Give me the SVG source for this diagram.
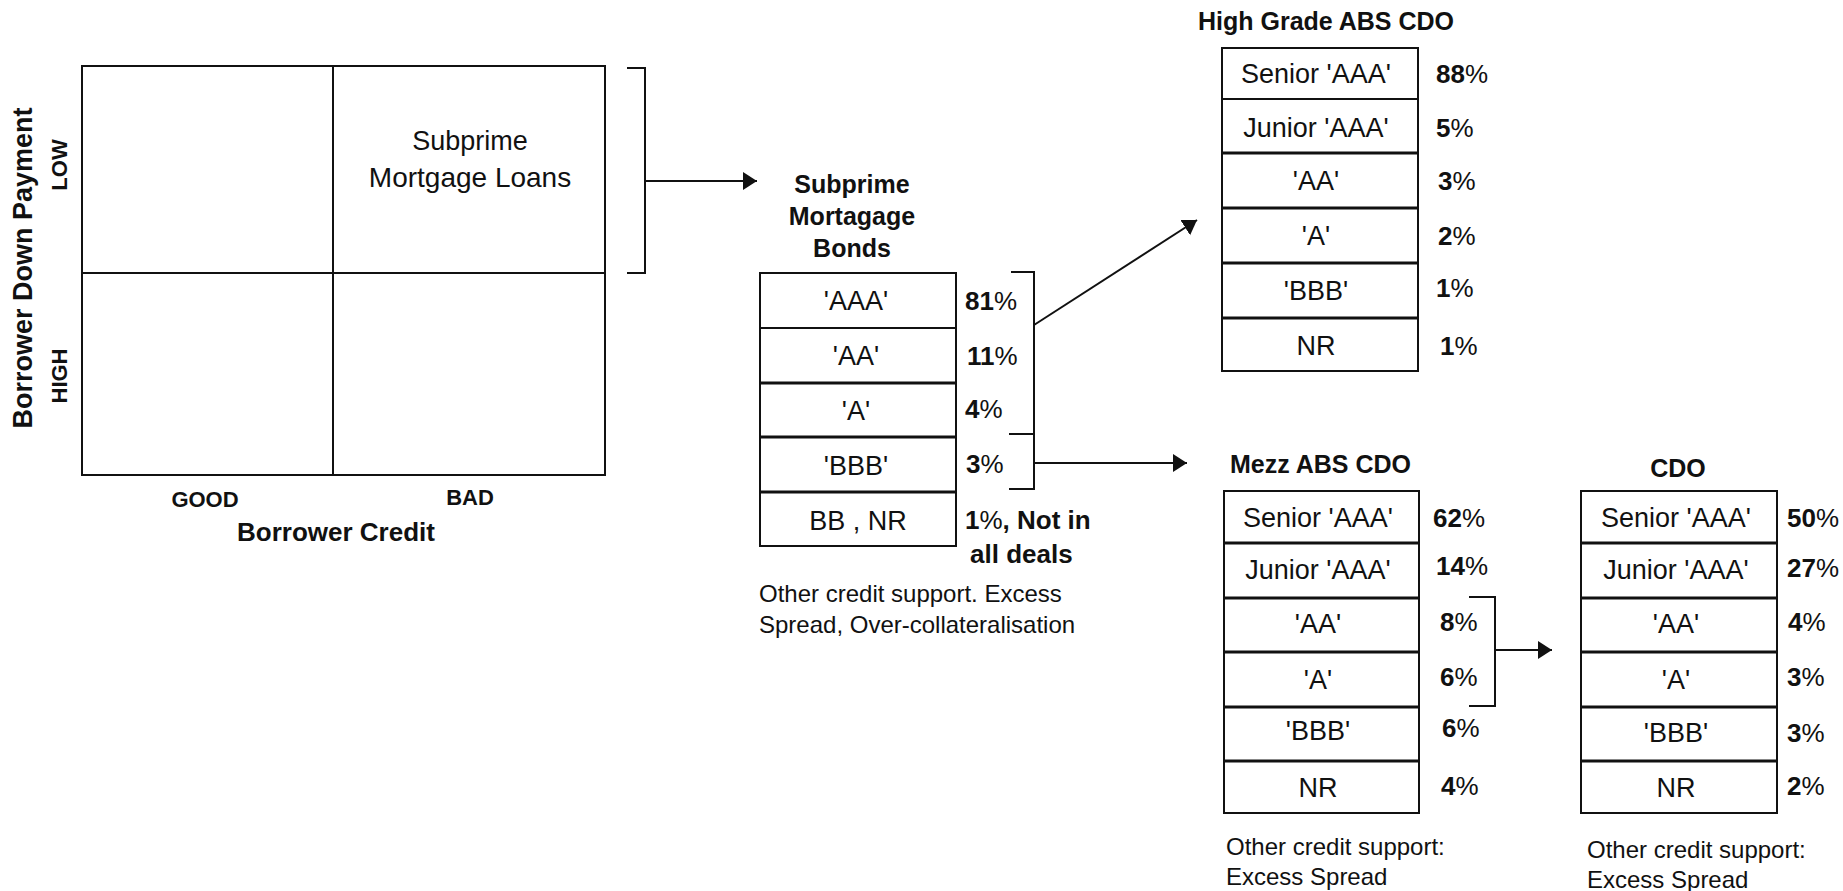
<svg xmlns="http://www.w3.org/2000/svg" width="1843" height="891" viewBox="0 0 1843 891">
<defs>
<marker id="ah" markerUnits="userSpaceOnUse" markerWidth="16" markerHeight="20" refX="14" refY="10" orient="auto">
<path d="M0,1 L14,10 L0,19 Z" fill="#111"/>
</marker>
<style>
text{font-family:"Liberation Sans",Arial,sans-serif;fill:#111}
.b{font-weight:bold}
.t{font-size:25px;font-weight:bold}
.lbl{font-size:27px;text-anchor:middle}
.pct{font-size:26px;font-weight:bold}
.pct tspan{font-weight:normal}
.body{font-size:24px}
.ax{font-size:22px;font-weight:bold;text-anchor:middle}
.ln{fill:none;stroke:#111;stroke-width:2}
.tb{fill:#fff;stroke:#111;stroke-width:2}
.dv{stroke:#111;stroke-width:3}
</style>
</defs>
<rect width="1843" height="891" fill="#fff"/>

<g id="quadrant">
<rect x="82" y="66" width="523" height="409" class="ln"/>
<line x1="333" y1="66" x2="333" y2="475" class="ln"/>
<line x1="82" y1="273" x2="605" y2="273" class="ln"/>
<text x="470" y="150" font-size="27" text-anchor="middle">Subprime</text>
<text x="470" y="187" font-size="28" text-anchor="middle">Mortgage Loans</text>
<text transform="translate(32,268) rotate(-90)" font-size="27" class="b" text-anchor="middle">Borrower Down Payment</text>
<text transform="translate(67,165) rotate(-90)" class="ax">LOW</text>
<text transform="translate(67,376) rotate(-90)" class="ax">HIGH</text>
<text x="205" y="507" class="ax">GOOD</text>
<text x="470" y="505" class="ax">BAD</text>
<text x="336" y="541" font-size="26" class="b" text-anchor="middle">Borrower Credit</text>
</g>

<g id="subprime-bonds">
<text x="852" y="193" class="t" font-size="26" text-anchor="middle">Subprime</text>
<text x="852" y="225" class="t" font-size="26" text-anchor="middle">Mortagage</text>
<text x="852" y="257" class="t" font-size="26" text-anchor="middle">Bonds</text>
<rect x="760" y="273" width="196" height="273" class="tb"/>
<line x1="760" y1="328" x2="956" y2="328" class="ln"/>
<line x1="760" y1="383" x2="956" y2="383" class="dv"/>
<line x1="760" y1="437" x2="956" y2="437" class="dv"/>
<line x1="760" y1="492" x2="956" y2="492" class="dv"/>
<text x="856" y="310" class="lbl">'AAA'</text>
<text x="856" y="365" class="lbl">'AA'</text>
<text x="856" y="420" class="lbl">'A'</text>
<text x="856" y="475" class="lbl">'BBB'</text>
<text x="858" y="530" class="lbl">BB , NR</text>
<text x="965" y="310" class="pct">81<tspan>%</tspan></text>
<text x="967" y="365" class="pct">11<tspan>%</tspan></text>
<text x="965" y="418" class="pct">4<tspan>%</tspan></text>
<text x="966" y="473" class="pct">3<tspan>%</tspan></text>
<text x="965" y="529" class="pct" font-size="25">1<tspan>%</tspan>, Not in</text>
<text x="970" y="563" class="pct" font-size="25">all deals</text>
<text x="759" y="602" class="body">Other credit support. Excess</text>
<text x="759" y="633" class="body">Spread, Over-collateralisation</text>
</g>

<g id="high-grade-cdo">
<text x="1198" y="30" class="t">High Grade ABS CDO</text>
<rect x="1222" y="48" width="196" height="323" class="tb"/>
<line x1="1222" y1="99" x2="1418" y2="99" class="ln"/>
<line x1="1222" y1="153" x2="1418" y2="153" class="dv"/>
<line x1="1222" y1="208" x2="1418" y2="208" class="dv"/>
<line x1="1222" y1="263" x2="1418" y2="263" class="dv"/>
<line x1="1222" y1="318" x2="1418" y2="318" class="dv"/>
<text x="1316" y="83" class="lbl">Senior 'AAA'</text>
<text x="1316" y="137" class="lbl">Junior 'AAA'</text>
<text x="1316" y="190" class="lbl">'AA'</text>
<text x="1316" y="245" class="lbl">'A'</text>
<text x="1316" y="300" class="lbl">'BBB'</text>
<text x="1316" y="355" class="lbl">NR</text>
<text x="1436" y="83" class="pct">88<tspan>%</tspan></text>
<text x="1436" y="137" class="pct">5<tspan>%</tspan></text>
<text x="1438" y="190" class="pct">3<tspan>%</tspan></text>
<text x="1438" y="245" class="pct">2<tspan>%</tspan></text>
<text x="1436" y="297" class="pct">1<tspan>%</tspan></text>
<text x="1440" y="355" class="pct">1<tspan>%</tspan></text>
</g>

<g id="mezz-cdo">
<text x="1230" y="473" class="t">Mezz ABS CDO</text>
<rect x="1224" y="491" width="195" height="322" class="tb"/>
<line x1="1224" y1="543" x2="1419" y2="543" class="dv"/>
<line x1="1224" y1="598" x2="1419" y2="598" class="dv"/>
<line x1="1224" y1="652" x2="1419" y2="652" class="dv"/>
<line x1="1224" y1="707" x2="1419" y2="707" class="dv"/>
<line x1="1224" y1="761" x2="1419" y2="761" class="dv"/>
<text x="1318" y="527" class="lbl">Senior 'AAA'</text>
<text x="1318" y="579" class="lbl">Junior 'AAA'</text>
<text x="1318" y="633" class="lbl">'AA'</text>
<text x="1318" y="689" class="lbl">'A'</text>
<text x="1318" y="740" class="lbl">'BBB'</text>
<text x="1318" y="797" class="lbl">NR</text>
<text x="1433" y="527" class="pct">62<tspan>%</tspan></text>
<text x="1436" y="575" class="pct">14<tspan>%</tspan></text>
<text x="1440" y="631" class="pct">8<tspan>%</tspan></text>
<text x="1440" y="686" class="pct">6<tspan>%</tspan></text>
<text x="1442" y="737" class="pct">6<tspan>%</tspan></text>
<text x="1441" y="795" class="pct">4<tspan>%</tspan></text>
<text x="1226" y="855" class="body">Other credit support:</text>
<text x="1226" y="885" class="body">Excess Spread</text>
</g>

<g id="cdo">
<text x="1678" y="477" class="t" text-anchor="middle">CDO</text>
<rect x="1581" y="491" width="196" height="322" class="tb"/>
<line x1="1581" y1="543" x2="1777" y2="543" class="dv"/>
<line x1="1581" y1="598" x2="1777" y2="598" class="dv"/>
<line x1="1581" y1="652" x2="1777" y2="652" class="dv"/>
<line x1="1581" y1="707" x2="1777" y2="707" class="dv"/>
<line x1="1581" y1="761" x2="1777" y2="761" class="dv"/>
<text x="1676" y="527" class="lbl">Senior 'AAA'</text>
<text x="1676" y="579" class="lbl">Junior 'AAA'</text>
<text x="1676" y="633" class="lbl">'AA'</text>
<text x="1676" y="689" class="lbl">'A'</text>
<text x="1676" y="742" class="lbl">'BBB'</text>
<text x="1676" y="797" class="lbl">NR</text>
<text x="1787" y="527" class="pct">50<tspan>%</tspan></text>
<text x="1787" y="577" class="pct">27<tspan>%</tspan></text>
<text x="1788" y="631" class="pct">4<tspan>%</tspan></text>
<text x="1787" y="686" class="pct">3<tspan>%</tspan></text>
<text x="1787" y="742" class="pct">3<tspan>%</tspan></text>
<text x="1787" y="795" class="pct">2<tspan>%</tspan></text>
<text x="1587" y="858" class="body">Other credit support:</text>
<text x="1587" y="888" class="body">Excess Spread</text>
</g>

<g id="connectors">
<path d="M627,68 H645 V273 H627" class="ln"/>
<line x1="645" y1="181" x2="757" y2="181" class="ln" marker-end="url(#ah)"/>
<path d="M1011,272 H1034 V434 H1009" class="ln"/>
<line x1="1034" y1="325" x2="1197" y2="220" class="ln" marker-end="url(#ah)"/>
<path d="M1009,434 H1034 V489 H1009" class="ln"/>
<line x1="1034" y1="463" x2="1187" y2="463" class="ln" marker-end="url(#ah)"/>
<path d="M1469,597 H1495 V706 H1469" class="ln"/>
<line x1="1495" y1="650" x2="1552" y2="650" class="ln" marker-end="url(#ah)"/>
</g>
</svg>
